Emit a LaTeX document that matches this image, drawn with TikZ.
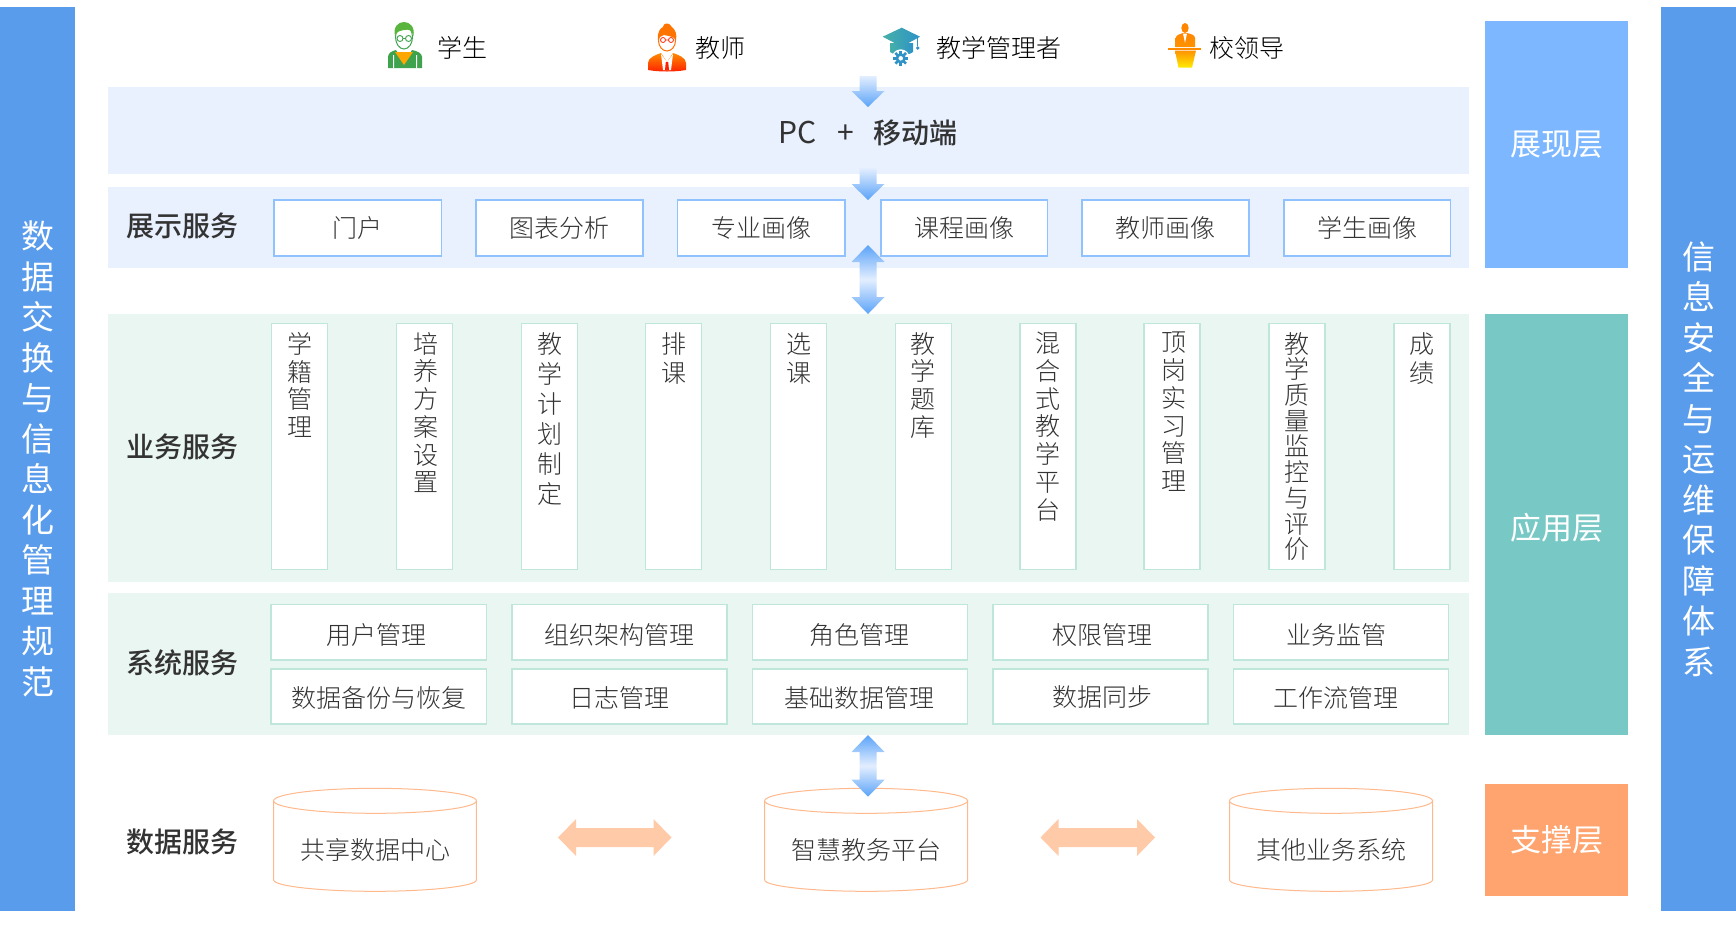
\documentclass[tikz,border=0pt]{standalone}
\usepackage{fontspec}
\setmainfont{Noto Sans CJK SC}[UprightFont=* Light,BoldFont=* Medium]
\newfontfamily\regfont{Noto Sans CJK SC}
\usetikzlibrary{calc}
\definecolor{bandblue}{HTML}{5A9CEC}
\definecolor{layerblue}{HTML}{7CB7FF}
\definecolor{layergreen}{HTML}{78C9C6}
\definecolor{layerorange}{HTML}{FFA46E}
\definecolor{paleblue}{HTML}{E9F1FF}
\definecolor{palegreen}{HTML}{E9F6F2}
\definecolor{edgeblue}{HTML}{8FC2FF}
\definecolor{edgegreen}{HTML}{BFE6DA}
\definecolor{edgeorange}{HTML}{FFB98C}
\definecolor{softorange}{HTML}{FFCAA8}
\definecolor{arrowblue}{HTML}{5AA3F8}
\definecolor{arrowpale}{HTML}{E3EEFF}
\definecolor{inktext}{HTML}{333333}
\definecolor{darktext}{HTML}{333333}
\definecolor{stgreen}{HTML}{3FA34D}
\definecolor{capleft}{HTML}{45B0A8}
\definecolor{capright}{HTML}{2F93C6}
\newcommand{\pxfont}[2]{\fontsize{#1}{#2}\selectfont}
\newcommand{\sy}[3][0pt]{\raisebox{#2}[\height][\depth]{\hspace{#1}#3}}
% name, style, x1, y1, x2, y2, text
\newcommand{\rbox}[7]{\node[#2,minimum width={(#5-#3)*1pt},minimum height={(#6-#4)*1pt}] (#1) at ({(#3+#5)/2},{(#4+#6)/2}) {#7};}
% name, x1, pitch, text, x-nudge : tall box with top aligned column text
\newcommand{\tallbox}[5]{\node[greenbox,minimum width=56pt,minimum height=246pt] (#1) at ({#2+28},446.3) {\makebox[56pt]{\hspace*{#5}\parbox[c][246pt][t]{56pt}{\centering\pxfont{25}{#3}\color{inktext}\vspace{9pt}#4}}};}
% single arrow: from coordinate to coordinate, downward
\newcommand{\downarrowblk}[2]{\path[shade,top color=arrowpale,bottom color=arrowblue,shading angle=0]
  let \p1=(#1),\p2=(#2) in (\x1-8.5pt,\y1)--(\x1+8.5pt,\y1)--(\x1+8.5pt,\y2+16pt)--(\x1+16.5pt,\y2+16pt)--(\x2,\y2)--(\x1-16.5pt,\y2+16pt)--(\x1-8.5pt,\y2+16pt)--cycle;}
% vertical double arrow
\newcommand{\updownblk}[2]{\path[shade,top color=arrowblue,bottom color=arrowblue,middle color=arrowpale]
  let \p1=(#1),\p2=(#2) in (\x1,\y1)--(\x1+16.5pt,\y1-17pt)--(\x1+8.5pt,\y1-17pt)--(\x1+8.5pt,\y2+17pt)--(\x1+16.5pt,\y2+17pt)--(\x2,\y2)--(\x1-16.5pt,\y2+17pt)--(\x1-8.5pt,\y2+17pt)--(\x1-8.5pt,\y1-17pt)--(\x1-16.5pt,\y1-17pt)--cycle;}
% horizontal double arrow
\newcommand{\leftrightblk}[2]{\path[fill=softorange]
  let \p1=(#1),\p2=(#2) in (\x1,\y1)--(\x1+18pt,\y1+18.5pt)--(\x1+18pt,\y1+9.5pt)--(\x2-18pt,\y1+9.5pt)--(\x2-18pt,\y1+18.5pt)--(\x2,\y2)--(\x2-18pt,\y1-18.5pt)--(\x2-18pt,\y1-9.5pt)--(\x1+18pt,\y1-9.5pt)--(\x1+18pt,\y1-18.5pt)--cycle;}
% name, x1, x2, text
\newcommand{\cyl}[4]{\pgfmathsetmacro{\cc}{(#2+#3)/2}\pgfmathsetmacro{\rr}{(#3-#2)/2}
  \draw[edgeorange,line width=1pt,fill=white] (#2,800.5) -- (#2,880) .. controls (#2,886) and ({\cc-\rr*0.55},891.3) .. (\cc,891.3) .. controls ({\cc+\rr*0.55},891.3) and (#3,886) .. (#3,880) -- (#3,800.5);
  \draw[edgeorange,line width=1pt,fill=white] (\cc,800.8) ellipse [x radius={\rr*1pt},y radius=12.5pt];
  \node[itemtext] (#1) at (\cc,850) {#4};}
\tikzset{
  x=1pt,y=-1pt,
  every node/.style={inner sep=0pt,outer sep=0pt},
  sideband/.style={fill=bandblue,text=white,align=center,font=\regfont\pxfont{33}{40.5}},
  layerbox/.style={text=white,font=\regfont\pxfont{31}{34}},
  bluebox/.style={fill=white,draw=edgeblue,line width=1.1pt,text=inktext,font=\pxfont{25}{28}},
  greenbox/.style={fill=white,draw=edgegreen,line width=1.1pt,text=inktext,font=\pxfont{25}{28}},
  itemtext/.style={text=darktext,font=\pxfont{25}{28}},
  rowlabel/.style={text=darktext,font=\pxfont{28}{30}\bfseries},
  toplabel/.style={text=black,font=\pxfont{25}{28}},
}
\begin{document}
\begin{tikzpicture}
\useasboundingbox (0,0) rectangle (1736,938);
% side bands
\rbox{leftband}{sideband}{0}{7}{75}{911}{数\\据\\交\\换\\与\\信\\息\\化\\管\\理\\规\\范}
\rbox{rightband}{sideband}{1661}{7}{1736}{911}{信\\息\\安\\全\\与\\运\\维\\保\\障\\体\\系}
% layers
\rbox{lyshow}{layerbox,fill=layerblue}{1485}{21}{1628}{268}{展现层}
\rbox{lyapp}{layerbox,fill=layergreen}{1485}{314}{1628}{734.7}{\sy{-3pt}{应用层}}
\rbox{lysup}{layerbox,fill=layerorange}{1485}{784}{1628}{895.6}{支撑层}
% rows
\rbox{rowpc}{fill=paleblue}{108}{87}{1469}{174}{}
\rbox{rowshow}{fill=paleblue}{108}{187}{1469}{268}{}
\rbox{rowbiz}{fill=palegreen}{108}{314}{1469}{581.7}{}
\rbox{rowsys}{fill=palegreen}{108}{593}{1469}{734.7}{}
\node[text=darktext,font=\regfont\pxfont{30}{30}] (pclabel) at (868,132.5) {PC\hspace{21pt}+\hspace{20pt}\textbf{\setmainfont{Noto Sans CJK SC}[BoldFont=* Medium]\normalfont\bfseries\pxfont{28}{30}移动端}};
\node[rowlabel] (lb1) at (182,226) {展示服务};
\node[rowlabel] (lb2) at (182,446.5) {业务服务};
\node[rowlabel] (lb3) at (182,663) {系统服务};
\node[rowlabel] (lb4) at (182,841.5) {数据服务};
% show boxes
\rbox{s1}{bluebox}{274}{200}{441.5}{256}{门户}
\rbox{s2}{bluebox}{476}{200}{643}{256}{图表分析}
\rbox{s3}{bluebox}{677.5}{200}{845}{256}{专业画像}
\rbox{s4}{bluebox}{881}{200}{1047.5}{256}{课程画像}
\rbox{s5}{bluebox}{1082}{200}{1249}{256}{教师画像}
\rbox{s6}{bluebox}{1284}{200}{1450.5}{256}{学生画像}
% business boxes
\tallbox{b1}{271.3}{27.7}{学\\籍\\管\\理}{2pt}
\tallbox{b2}{396.3}{27.7}{培\\养\\方\\案\\设\\置}{4pt}
\tallbox{b3}{521.3}{30}{教\\学\\计\\划\\制\\定}{2pt}
\tallbox{b4}{645.8}{29}{排\\课}{0pt}
\tallbox{b5}{770.8}{29}{选\\课}{0pt}
\tallbox{b6}{895.3}{27.7}{教\\学\\题\\库}{0pt}
\tallbox{b7}{1020}{27.7}{混\\合\\式\\教\\学\\平\\台}{0pt}
\tallbox{b8}{1144}{27.7}{顶\\岗\\实\\习\\管\\理}{4pt}
\tallbox{b9}{1269}{25.7}{教\\学\\质\\量\\监\\控\\与\\评\\价}{0pt}
\tallbox{b10}{1394}{29}{成\\绩}{0pt}
% system boxes
\rbox{y1}{greenbox}{271}{604.5}{486.5}{660}{\sy[-4pt]{-2.5pt}{用户管理}}
\rbox{y2}{greenbox}{512}{604.5}{727}{660}{\sy{-2.5pt}{组织架构管理}}
\rbox{y3}{greenbox}{752.6}{604.5}{967.5}{660}{\sy[-2pt]{-2.5pt}{角色管理}}
\rbox{y4}{greenbox}{993}{604.5}{1208}{660}{\sy[4pt]{-2.5pt}{权限管理}}
\rbox{y5}{greenbox}{1233.6}{604.5}{1448.5}{660}{\sy[-10pt]{-2.5pt}{业务监管}}
\rbox{y6}{greenbox}{271}{669}{486.5}{724}{\sy{-1pt}{数据备份与恢复}}
\rbox{y7}{greenbox}{512}{669}{727}{724}{\sy{-1pt}{日志管理}}
\rbox{y8}{greenbox}{752.6}{669}{967.5}{724}{\sy[-2pt]{-1pt}{基础数据管理}}
\rbox{y9}{greenbox}{993}{669}{1208}{724}{\sy[4pt]{-1pt}{数据同步}}
\rbox{y10}{greenbox}{1233.6}{669}{1448.5}{724}{\sy[-10pt]{-1pt}{工作流管理}}
% data cylinders
\cyl{c1}{273.6}{476.4}{共享数据中心}
\cyl{c2}{764.7}{967.5}{智慧教务平台}
\cyl{c3}{1229.5}{1432.5}{其他业务系统}
% arrows
\coordinate (a1s) at (868,76); \coordinate (a1e) at (868,107);
\coordinate (a2s) at (868,168); \coordinate (a2e) at (868,200);
\coordinate (a3s) at (868,245); \coordinate (a3e) at (868,314);
\coordinate (a4s) at (868,735); \coordinate (a4e) at (868,796.7);
\coordinate (a5s) at (558,837.5); \coordinate (a5e) at (671.5,837.5);
\coordinate (a6s) at (1040.5,837.5); \coordinate (a6e) at (1155,837.5);
\downarrowblk{a1s}{a1e}
\downarrowblk{a2s}{a2e}
\updownblk{a3s}{a3e}
\updownblk{a4s}{a4e}
\leftrightblk{a5s}{a5e}
\leftrightblk{a6s}{a6e}
% top labels
\node[toplabel] (t1) at (462,48) {学生};
\node[toplabel] (t2) at (720,48) {教师};
\node[toplabel] (t3) at (999,48) {教学管理者};
\node[toplabel] (t4) at (1247,48) {校领导};
% student icon
\fill[stgreen] (388,68) -- (388,57) .. controls (388,53) and (392,51) .. (396,50) -- (404,63) -- (412,50) .. controls (417,51) and (422,53) .. (422,57) -- (422,68) -- cycle;
\fill[white] (393,68) -- (393,55) -- (394,55) -- (394,68) -- cycle (416,68) -- (416,55) -- (417,55) -- (417,68) -- cycle;
\fill[orange!70!yellow] (395,52) -- (413,52) -- (404,65) -- cycle;
\draw[stgreen,line width=1pt,fill=white] (404,37) ellipse [x radius=8.5pt,y radius=12pt];
\fill[stgreen!80!lime] (395,36) .. controls (393,27) and (398,22) .. (404,22) .. controls (410,22) and (415,27) .. (413.5,36) .. controls (412,30) and (409,29) .. (404,30) .. controls (400,31) and (397,31) .. (395,36) -- cycle;
\draw[stgreen,line width=.9pt] (400,38.5) circle [radius=3pt] (408.5,38.5) circle [radius=3pt] (403,38.5) -- (405.5,38.5);
% teacher icon
\path[shade,top color=orange!90!yellow,bottom color=red!75!orange] (648,70) -- (648,63) .. controls (648,58) and (655,55) .. (661,53) -- (667,62) -- (673,53) .. controls (679,55) and (686,58) .. (686,63) -- (686,70) .. controls (675,72) and (659,72) .. (648,70) -- cycle;
\fill[white] (661,54) -- (667,62) -- (673,54) -- (671,70) -- (663,70) -- cycle;
\fill[red!75!orange] (665.8,62) -- (668.2,62) -- (669,70) -- (665,70) -- cycle;
\draw[orange!90!red,line width=1pt,fill=white] (667,40.5) ellipse [x radius=8.5pt,y radius=10.5pt];
\fill[orange!90!red] (658,40) .. controls (657,31) and (661,28) .. (663,27) .. controls (663,23) and (669,22) .. (671,26) .. controls (676,30) and (677,35) .. (676,40) .. controls (673,36) and (668,36) .. (664,35) .. controls (661,36) and (659,37) .. (658,40) -- cycle;
\draw[red!70!orange,line width=.8pt] (663,40) circle [radius=2.5pt] (671,40) circle [radius=2.5pt] (665.5,40) -- (668.5,40);
% manager icon
\path[shade,left color=capleft,right color=capright] (890,43) -- (913,43) -- (913,52) .. controls (908,56) and (895,56) .. (890,52) -- cycle;
\path[shade,left color=capleft,right color=capright] (882.7,36.7) -- (901.7,27.7) -- (920,36.7) -- (901.7,46.7) -- cycle;
\draw[capright,line width=1.2pt] (917.7,38) -- (917.7,46);
\fill[capright] (917.7,48) circle [radius=1.8pt];
\fill[white] (900.7,58.3) circle [radius=9pt];
\foreach \a in {0,45,...,315}{\fill[capright,rotate around={\a:(900.7,58.3)}] (899.4,50.8) rectangle (902,54);}
\draw[capright,line width=2.6pt] (900.7,58.3) circle [radius=3.8pt];
% leader icon
\fill[orange!95!yellow] (1185,28) ellipse [x radius=3.7pt,y radius=5pt];
\path[shade,top color=orange!95!yellow,bottom color=orange!85!yellow] (1175.7,47) -- (1175.7,38) .. controls (1176,35) and (1180,34) .. (1183,33) -- (1187,33) .. controls (1191,34) and (1195,35) .. (1195,38) -- (1195,47) -- cycle;
\fill[white] (1183,33.5) -- (1187,33.5) -- (1185,43) -- cycle;
\fill[orange!90!yellow] (1168,47.5) rectangle (1201,49.5);
\path[shade,top color=orange!85!yellow,bottom color=yellow!85!orange] (1175,50.5) -- (1196,50.5) -- (1192,67.7) -- (1178.5,67.7) -- cycle;
\end{tikzpicture}
\end{document}
